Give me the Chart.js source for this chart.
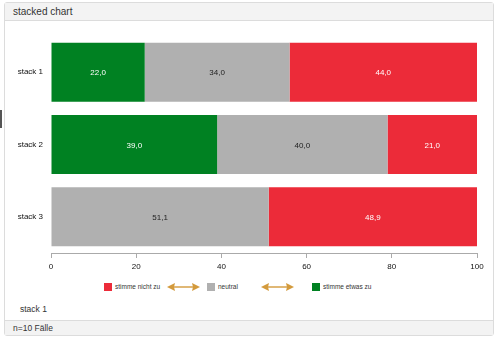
<!DOCTYPE html>
<html lang="de">
<head>
    <meta charset="UTF-8">
    <title>stacked chart</title>
    <script src="https://cdn.jsdelivr.net/npm/chart.js"></script>
    <style>
        body { margin: 0; width: 500px; height: 342px; background: #fff; font-family: "Liberation Sans", Arial, sans-serif; position: relative; overflow: hidden; }
        .panel { position: absolute; left: 4px; top: 2px; width: 488px; height: 332px; border: 1px solid #dcdcdc; border-radius: 3px; background: #fff; }
        .panel-head { height: 17px; background: #f3f3f3; border-bottom: 1px solid #dcdcdc; font-size: 10px; color: #333; line-height: 17px; padding-left: 8px; }
        .panel-foot { position: absolute; left: 0; right: 0; bottom: 0; height: 14px; background: #f3f3f3; border-top: 1px solid #dcdcdc; font-size: 8.5px; color: #333; line-height: 14px; padding-left: 8px; }
        .marker { position: absolute; left: 0; top: 110px; width: 2px; height: 18px; background: #555; }
        #chart { position: absolute; left: 5px; top: 21px; }
        .legend { position: absolute; top: 283px; left: 0; width: 500px; height: 10px; font-size: 6.5px; color: #333; }
        .legend span { position: absolute; line-height: 8px; white-space: nowrap; }
        .legend i { position: absolute; width: 8px; height: 8px; }
        .legend svg { position: absolute; top: 0; }
        .subtitle { position: absolute; left: 20px; top: 304px; font-size: 8.5px; color: #333; }
    </style>
</head>
<body>
    <div class="panel">
        <div class="panel-head">stacked chart</div>
        <div class="panel-foot">n=10 Fälle</div>
    </div>
    <div class="marker"></div>
    <canvas id="chart" width="488" height="254"></canvas>
    <div class="legend" id="legend"></div>
    <div class="subtitle">stack 1</div>
    <script>
        const stacks = ['stack 1', 'stack 2', 'stack 3'];
        const agreeValues = [22.0, 39.0, 0];
        const neutralValues = [34.0, 40.0, 51.1];
        const disagreeValues = [44.0, 21.0, 48.9];
        const xTicks = [0, 20, 40, 60, 80, 100];

        const GREEN = '#008122';
        const GREY = '#b0b0b0';
        const RED = '#ec2b39';
        const ARROW = '#d39a3c';

        // writes the value in the middle of each segment, German decimal comma
        const segmentLabels = {
            id: 'segmentLabels',
            afterDatasetsDraw(chart) {
                const ctx = chart.ctx;
                ctx.save();
                ctx.font = '8px "Liberation Sans", Arial, sans-serif';
                ctx.textAlign = 'center';
                ctx.textBaseline = 'middle';
                chart.data.datasets.forEach((ds, i) => {
                    const meta = chart.getDatasetMeta(i);
                    meta.data.forEach((bar, j) => {
                        const v = ds.data[j];
                        if (!v) return;
                        ctx.fillStyle = ds.labelColor;
                        ctx.fillText(v.toFixed(1).replace('.', ','), (bar.x + bar.base) / 2, bar.y + 1);
                    });
                });
                ctx.restore();
            }
        };

        const chart = new Chart(document.getElementById('chart'), {
            type: 'bar',
            data: {
                labels: stacks,
                datasets: [
                    { label: 'stimme etwas zu', data: agreeValues, backgroundColor: GREEN, labelColor: '#fff' },
                    { label: 'neutral', data: neutralValues, backgroundColor: GREY, labelColor: '#222' },
                    { label: 'stimme nicht zu', data: disagreeValues, backgroundColor: RED, labelColor: '#fff' }
                ]
            },
            options: {
                indexAxis: 'y',
                responsive: false,
                animation: false,
                datasets: { bar: { categoryPercentage: 1, barPercentage: 0.815 } },
                layout: { padding: { top: 15, right: 16, left: 0, bottom: 0 } },
                plugins: { legend: { display: false }, tooltip: { enabled: false } },
                scales: {
                    x: {
                        stacked: true,
                        min: 0,
                        max: 100,
                        afterBuildTicks: (scale) => { scale.ticks = xTicks.map(v => ({ value: v })); },
                        afterFit: (scale) => { scale.height = 22; },
                        grid: { drawOnChartArea: false, drawTicks: true, tickLength: 5, color: '#aaa' },
                        border: { color: '#aaa' },
                        ticks: { padding: 4, color: '#111', font: { size: 8, family: '"Liberation Sans", Arial' } }
                    },
                    y: {
                        stacked: true,
                        afterFit: (scale) => { scale.width = 46; },
                        grid: { display: false, drawTicks: false },
                        border: { display: false },
                        ticks: { padding: 8, color: '#111', font: { size: 8, family: '"Liberation Sans", Arial' } }
                    }
                }
            },
            plugins: [segmentLabels]
        });

        // legend: disagree, neutral, agree with double arrows between them
        const legend = document.getElementById('legend');
        const arrowSvg = (left, width) =>
            `<svg style="left:${left}px" width="${width}" height="8" viewBox="0 0 ${width} 8">
                <line x1="6" y1="4" x2="${width - 6}" y2="4" stroke="${ARROW}" stroke-width="1.4"/>
                <polygon points="0,4 8,0 7,4 8,8" fill="${ARROW}"/>
                <polygon points="${width},4 ${width - 8},0 ${width - 7},4 ${width - 8},8" fill="${ARROW}"/>
            </svg>`;
        const items = [
            { ds: chart.data.datasets[2], box: 104 },
            { ds: chart.data.datasets[1], box: 207 },
            { ds: chart.data.datasets[0], box: 312 }
        ];
        let html = '';
        items.forEach(it => {
            html += `<i style="left:${it.box}px;background:${it.ds.backgroundColor}"></i>`;
            html += `<span style="left:${it.box + 11}px">${it.ds.label}</span>`;
        });
        html += arrowSvg(167, 33) + arrowSvg(261, 33);
        legend.innerHTML = html;
    </script>
</body>
</html>
